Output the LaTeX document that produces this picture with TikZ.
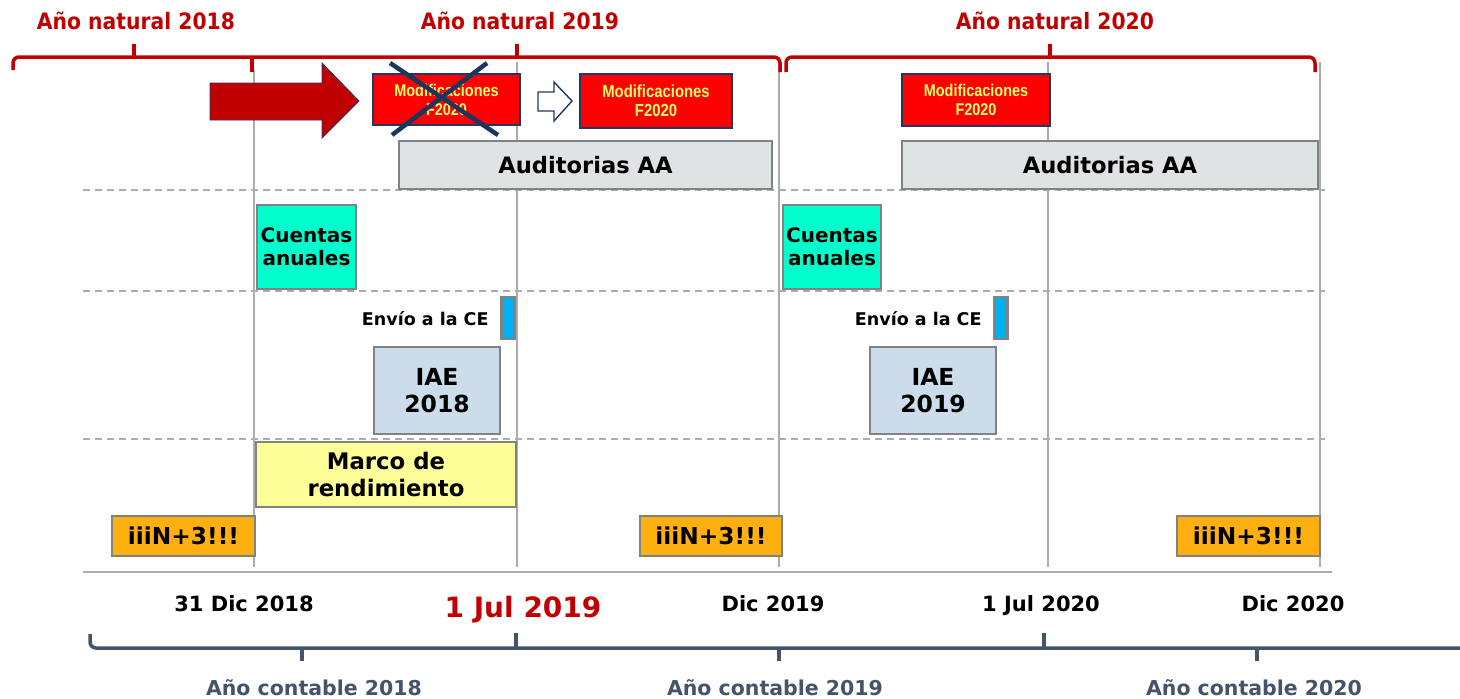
\documentclass[tikz,border=0pt]{standalone}
\usepackage{fontspec}
\setmainfont{DejaVu Sans}
\newfontfamily\condfont{DejaVu Sans Condensed}
\newfontfamily\narrowfont[FakeStretch=0.85]{Liberation Sans}
\definecolor{natred}{HTML}{C00000}
\definecolor{slate}{HTML}{44546A}
\definecolor{grid}{HTML}{A9ADB0}
\definecolor{boxgray}{HTML}{7F8385}
\definecolor{navy}{HTML}{1F3864}
\definecolor{xnavy}{HTML}{17375E}
\definecolor{modred}{HTML}{FF0000}
\definecolor{modyel}{HTML}{FFFF66}
\definecolor{audfill}{HTML}{DFE3E4}
\definecolor{cuefill}{HTML}{00FFCC}
\definecolor{iaefill}{HTML}{CCDCEB}
\definecolor{marcofill}{HTML}{FFFF99}
\definecolor{nfill}{HTML}{FFB010}
\definecolor{barfill}{HTML}{00B0F0}
\begin{document}
\begin{tikzpicture}[x=1pt,y=-1pt,
  cell/.style={draw=boxgray, line width=2.2pt, inner sep=0pt, align=center, font=\bfseries},
  modbox/.style={draw=navy, line width=1.4pt, fill=modred, inner sep=0pt, align=center, text=modyel, font=\narrowfont\bfseries\fontsize{17}{19}\selectfont},
  gridline/.style={grid, line width=1.6pt},
  dashline/.style={grid, line width=1.5pt, dash pattern=on 7pt off 5pt},
  natbrace/.style={natred, line width=3.5pt, rounded corners=6pt},
  conbrace/.style={slate, line width=3.5pt, rounded corners=6pt},
  natlabel/.style={anchor=base, text=natred, font=\condfont\bfseries\fontsize{22.6}{26}\selectfont},
  conlabel/.style={anchor=base, text=slate, font=\bfseries\fontsize{20.5}{24}\selectfont},
  datelabel/.style={anchor=base, font=\bfseries\fontsize{21}{25}\selectfont},
  n3/.style={cell, fill=nfill, minimum height=40pt, font=\bfseries\fontsize{23.3}{27}\selectfont}
]
\useasboundingbox (0,0) rectangle (1460,699);

% grid lines
\draw[gridline] (254,70) -- (254,567);
\draw[gridline] (517,62) -- (517,567);
\draw[gridline] (779,62) -- (779,567);
\draw[gridline] (1048,62) -- (1048,567);
\draw[gridline] (1320,62) -- (1320,567);
\foreach \yy in {190,291,439} \draw[dashline] (83,\yy) -- (1325,\yy);
\draw[grid, line width=2pt] (83,572) -- (1332,572);

% top red braces
\draw[natbrace] (13,70) -- (13,57) -- (780,57) -- (780,72);
\draw[natred, line width=3.5pt] (252,57) -- (252,72);
\draw[natred, line width=3.5pt] (134,58) -- (134,44);
\draw[natred, line width=3.5pt] (517,58) -- (517,44);
\draw[natbrace] (786,72) -- (786,57) -- (1315,57) -- (1315,72);
\draw[natred, line width=3.5pt] (1050,58) -- (1050,44);
\node[natlabel] (n2018) at (136,29) {Año natural 2018};
\node[natlabel] (n2019) at (520,29) {Año natural 2019};
\node[natlabel] (n2020) at (1055,29) {Año natural 2020};

% red block arrow
\draw[navy, line width=0.8pt, fill=natred] (210,83) -- (322,83) -- (322,63) -- (359,101) -- (322,138) -- (322,120) -- (210,120) -- cycle;

% modificaciones boxes
\node[modbox, minimum width=147pt, minimum height=51pt] (mod1) at (446.5,99.5) {Modificaciones\\F2020};
\draw[xnavy, line width=4.5pt] (390,63) -- (498,135);
\draw[xnavy, line width=4.5pt] (487,63) -- (392,135);
\draw[navy, line width=1.4pt, fill=white] (538,92) -- (554,92) -- (554,82) -- (572,101) -- (554,121) -- (554,111) -- (538,111) -- cycle;
\node[modbox, minimum width=152pt, minimum height=54pt, font=\narrowfont\bfseries\fontsize{17.5}{19}\selectfont] (mod2) at (656,101) {Modificaciones\\F2020};
\node[modbox, minimum width=148pt, minimum height=52pt] (mod3) at (976,100) {Modificaciones\\F2020};

% auditorias
\node[cell, fill=audfill, minimum width=373pt, minimum height=48pt, font=\bfseries\fontsize{22.6}{26}\selectfont] (aud1) at (585.5,165) {Auditorias AA};
\node[cell, fill=audfill, minimum width=416pt, minimum height=48pt, font=\bfseries\fontsize{22.6}{26}\selectfont] (aud2) at (1110,165) {Auditorias AA};

% cuentas anuales
\node[cell, fill=cuefill, minimum width=99pt, minimum height=84pt, font=\bfseries\fontsize{20}{23}\selectfont] (cue1) at (306.5,247) {Cuentas\\anuales};
\node[cell, fill=cuefill, minimum width=98pt, minimum height=84pt, font=\bfseries\fontsize{20}{23}\selectfont] (cue2) at (832,247) {Cuentas\\anuales};

% envio
\node[cell, fill=barfill, minimum width=13pt, minimum height=42pt] (bar1) at (508,318) {};
\node[cell, fill=barfill, minimum width=13pt, minimum height=42pt] (bar2) at (1001,318) {};
\node[anchor=east, font=\bfseries\fontsize{17.5}{20}\selectfont] (env1) at (492,319) {Envío a la CE};
\node[anchor=east, font=\bfseries\fontsize{17.5}{20}\selectfont] (env2) at (985,319) {Envío a la CE};

% IAE
\node[cell, fill=iaefill, minimum width=126pt, minimum height=87pt, font=\bfseries\fontsize{23.5}{27}\selectfont] (iae1) at (437,390.5) {IAE\\2018};
\node[cell, fill=iaefill, minimum width=126pt, minimum height=87pt, font=\bfseries\fontsize{23.5}{27}\selectfont] (iae2) at (933,390.5) {IAE\\2019};

% marco
\node[cell, fill=marcofill, minimum width=260pt, minimum height=65pt, font=\bfseries\fontsize{22.8}{27}\selectfont] (marco) at (386,474.5) {Marco de\\rendimiento};

% N+3
\node[n3, minimum width=143pt] (np1) at (183.5,536) {iiiN+3!!!};
\node[n3, minimum width=142pt] (np2) at (711,536) {iiiN+3!!!};
\node[n3, minimum width=143pt] (np3) at (1248.5,536) {iiiN+3!!!};

% dates
\node[datelabel] (d1) at (244,611) {31 Dic 2018};
\node[anchor=base, text=natred, font=\bfseries\fontsize{28}{32}\selectfont] (d2) at (523,617) {1 Jul 2019};
\node[datelabel] (d3) at (773,611) {Dic 2019};
\node[datelabel] (d4) at (1041,611) {1 Jul 2020};
\node[datelabel] (d5) at (1293,611) {Dic 2020};

% bottom braces
\draw[conbrace] (90,634) -- (90,648) -- (1462,648);
\draw[slate, line width=3.5pt] (516,647) -- (516,633);
\draw[slate, line width=3.5pt] (1044,647) -- (1044,633);
\draw[slate, line width=3.5pt] (302,647) -- (302,661);
\draw[slate, line width=3.5pt] (779,647) -- (779,661);
\draw[slate, line width=3.5pt] (1257,647) -- (1257,661);
\node[conlabel] (c1) at (314,695) {Año contable 2018};
\node[conlabel] (c2) at (775,695) {Año contable 2019};
\node[conlabel] (c3) at (1254,695) {Año contable 2020};
\end{tikzpicture}
\end{document}
